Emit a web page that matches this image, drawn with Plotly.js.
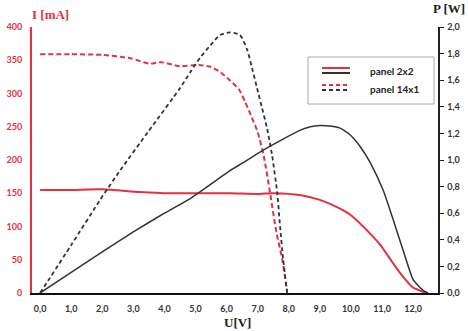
<!DOCTYPE html>
<html><head><meta charset="utf-8">
<script src="https://cdn.plot.ly/plotly-3.0.1.min.js"></script>
<style>html,body{margin:0;padding:0;background:#fff}#chart{width:468px;height:331px}</style>
</head><body><div id="chart"></div>
<script>
// Voltage ticks
const uTicks = [0,1,2,3,4,5,6,7,8,9,10,11,12];

// panel 14x1 – current (mA)
const u14I = [0, 1.0, 2.0, 2.9, 3.5, 3.9, 4.5, 5.1, 5.5, 5.8, 6.1, 6.4, 6.6, 6.8, 7.0, 7.2, 7.4, 7.6, 7.8, 7.95];
const i14  = [359, 359, 358, 353, 345, 347, 341, 343, 340, 332, 320, 306, 287, 265, 242, 205, 150, 92, 48, 0];

// panel 14x1 – power (W)
const u14P = [0, 1.0, 1.93, 2.57, 3.5, 4.5, 4.83, 5.15, 5.47, 5.79, 6.11, 6.43, 6.66, 6.82, 6.98, 7.14, 7.3, 7.46, 7.63, 7.72, 7.82, 7.95];
const p14  = [0, 0.36, 0.70, 0.92, 1.22, 1.54, 1.66, 1.77, 1.86, 1.94, 1.96, 1.94, 1.83, 1.69, 1.54, 1.39, 1.24, 1.04, 0.75, 0.50, 0.25, 0];

// panel 2x2 – current (mA)
const u22I = [0, 1.0, 2.0, 3.2, 4.2, 5.0, 6.1, 7.0, 7.5, 8.4, 9.0, 9.55, 10.0, 10.5, 10.95, 11.35, 11.7, 12.0, 12.25, 12.45];
const i22  = [155, 155, 156, 152, 150, 150, 150, 149, 150, 147, 140, 129, 117, 95, 72, 45, 23, 8, 3, 0];

// panel 2x2 – power (W)
const u22P = [0, 1.0, 2.0, 3.0, 4.0, 4.83, 6.11, 6.53, 7.18, 8.37, 8.69, 9.0, 9.33, 9.65, 9.97, 10.3, 10.62, 11.04, 11.36, 11.68, 12.0, 12.32, 12.48];
const p22  = [0, 0.155, 0.31, 0.46, 0.60, 0.71, 0.92, 0.98, 1.075, 1.225, 1.25, 1.26, 1.256, 1.24, 1.19, 1.10, 0.98, 0.77, 0.55, 0.32, 0.10, 0.02, 0];

const legendNames = ['panel 2x2', 'panel 14x1'];

const RED = '#e3323d';
const DARK = '#333333';

const traces = [
  {x: u22I, y: i22, type: 'scatter', mode: 'lines', yaxis: 'y',
   line: {color: RED, width: 2, shape: 'spline', smoothing: 0.6}, showlegend: false},
  {x: u22P, y: p22, type: 'scatter', mode: 'lines', yaxis: 'y2',
   line: {color: DARK, width: 1.5, shape: 'spline', smoothing: 0.5}, showlegend: false},
  {x: u14I, y: i14, type: 'scatter', mode: 'lines', yaxis: 'y',
   line: {color: RED, width: 2, dash: '5px,3px', shape: 'spline', smoothing: 0.6}, showlegend: false},
  {x: u14P, y: p14, type: 'scatter', mode: 'lines', yaxis: 'y2',
   line: {color: DARK, width: 1.8, dash: '4px,3px', shape: 'spline', smoothing: 0.6}, showlegend: false}
];

// plot area in pixels
const L = 32, R = 438, T = 27, B = 293;
const px = v => (v - L) / (R - L);
const py = v => (B - v) / (B - T);

const tickFont = {family: 'Lato, "Open Sans", sans-serif', size: 9, color: DARK, weight: 'bold'};
const titleFont = {family: '"Liberation Serif", "Times New Roman", serif', size: 13, weight: 'bold'};

const shapes = [
  {type: 'rect', xref: 'paper', yref: 'paper', x0: px(308), x1: px(434), y0: py(104), y1: py(57),
   line: {color: '#aaaaaa', width: 1}, fillcolor: 'rgba(255,255,255,1)'},
  {type: 'line', xref: 'paper', yref: 'paper', x0: px(322), x1: px(350), y0: py(68), y1: py(68),
   line: {color: RED, width: 2}},
  {type: 'line', xref: 'paper', yref: 'paper', x0: px(322), x1: px(350), y0: py(73), y1: py(73),
   line: {color: DARK, width: 2}},
  {type: 'line', xref: 'paper', yref: 'paper', x0: px(322), x1: px(350), y0: py(85), y1: py(85),
   line: {color: RED, width: 2, dash: '4px,3px'}},
  {type: 'line', xref: 'paper', yref: 'paper', x0: px(322), x1: px(350), y0: py(90), y1: py(90),
   line: {color: DARK, width: 2, dash: '4px,3px'}}
];

const annotations = [
  {text: 'I [mA]', xref: 'paper', yref: 'paper', x: px(50), y: py(15), showarrow: false,
   xanchor: 'center', yanchor: 'middle', font: Object.assign({}, titleFont, {color: RED})},
  {text: 'P [W]', xref: 'paper', yref: 'paper', x: px(449), y: py(9), showarrow: false,
   xanchor: 'center', yanchor: 'middle', font: Object.assign({}, titleFont, {color: '#222'})},
  {text: 'U[V]', xref: 'paper', yref: 'paper', x: px(237), y: py(322), showarrow: false,
   xanchor: 'center', yanchor: 'middle', font: Object.assign({}, titleFont, {color: '#222'})},
  {text: legendNames[0], xref: 'paper', yref: 'paper', x: px(368), y: py(71), showarrow: false,
   xanchor: 'left', yanchor: 'middle', font: {family: 'Lato, sans-serif', size: 10, color: '#222', weight: 'bold'}},
  {text: legendNames[1], xref: 'paper', yref: 'paper', x: px(368), y: py(89), showarrow: false,
   xanchor: 'left', yanchor: 'middle', font: {family: 'Lato, sans-serif', size: 10, color: '#222', weight: 'bold'}}
];

const layout = {
  width: 468, height: 331,
  margin: {l: L, r: 468 - R, t: T, b: 331 - B, pad: 0},
  paper_bgcolor: '#ffffff', plot_bgcolor: '#ffffff',
  separators: ', ',
  showlegend: false,
  xaxis: {
    range: [-0.26, 12.8], tickvals: uTicks, tickformat: '.1f',
    showgrid: false, zeroline: false, showline: true, linecolor: '#111', linewidth: 2,
    ticks: '', tickfont: tickFont, ticklabelstandoff: 6
  },
  yaxis: {
    range: [0, 400], dtick: 50, showgrid: false, zeroline: false,
    showline: true, linecolor: RED, linewidth: 2, ticks: '',
    tickfont: Object.assign({}, tickFont, {color: RED}), ticklabelstandoff: 6
  },
  yaxis2: {
    range: [0, 2], dtick: 0.2, tickformat: '.1f', overlaying: 'y', side: 'right',
    showgrid: false, zeroline: false, showline: true, linecolor: '#222', linewidth: 1.5,
    ticks: 'outside', ticklen: 4, tickwidth: 1, tickcolor: '#222',
    tickfont: tickFont, ticklabelstandoff: 2
  },
  shapes: shapes,
  annotations: annotations
};

Plotly.newPlot('chart', traces, layout, {staticPlot: true, displayModeBar: false});
</script>
</body></html>
